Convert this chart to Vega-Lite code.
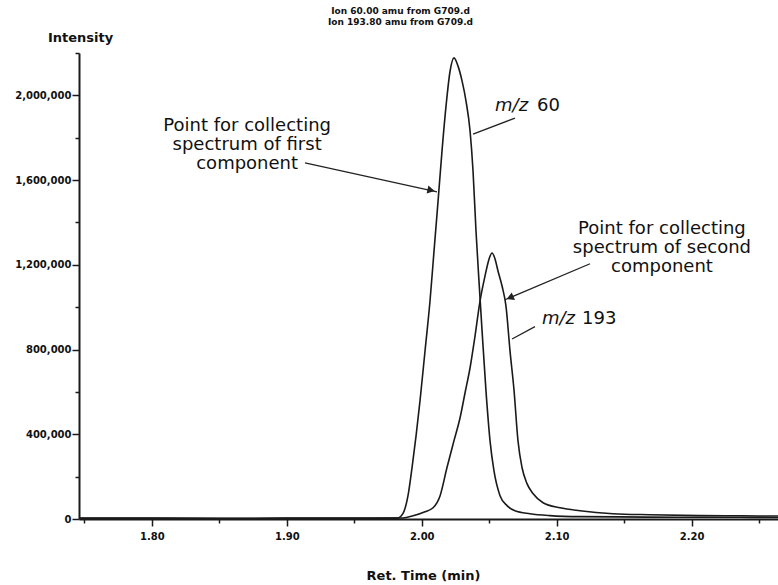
{
  "$schema": "https://vega.github.io/schema/vega-lite/v6.json",
  "autosize": "none",
  "width": 699,
  "height": 466,
  "padding": {"left": 79, "top": 53, "right": 0, "bottom": 66},
  "background": "white",
  "config": {"view": {"stroke": null}, "font": "DejaVu Sans"},
  "title": {
    "text": ["Ion 60.00 amu from G709.d", "Ion 193.80 amu from G709.d"],
    "font": "DejaVu Sans", "fontSize": 9, "fontWeight": "bold", "lineHeight": 11,
    "anchor": "middle", "dx": -28, "offset": 4, "color": "#111"
  },
  "datasets": {
    "curves": [
      {"ion": "60", "t": 1.746, "v": 3000}, {"ion": "60", "t": 1.80, "v": 3000}, {"ion": "60", "t": 1.85, "v": 2000},
      {"ion": "60", "t": 1.90, "v": 3000}, {"ion": "60", "t": 1.95, "v": 3000}, {"ion": "60", "t": 1.982, "v": 4000},
      {"ion": "60", "t": 1.986, "v": 25000}, {"ion": "60", "t": 1.9898, "v": 110000}, {"ion": "60", "t": 1.9928, "v": 243000},
      {"ion": "60", "t": 1.9958, "v": 394000}, {"ion": "60", "t": 1.9987, "v": 558000}, {"ion": "60", "t": 2.0024, "v": 792000},
      {"ion": "60", "t": 2.0061, "v": 1028000}, {"ion": "60", "t": 2.0091, "v": 1266000}, {"ion": "60", "t": 2.0121, "v": 1502000},
      {"ion": "60", "t": 2.015, "v": 1737000}, {"ion": "60", "t": 2.018, "v": 1950000}, {"ion": "60", "t": 2.021, "v": 2115000},
      {"ion": "60", "t": 2.0239, "v": 2177000}, {"ion": "60", "t": 2.0269, "v": 2138000}, {"ion": "60", "t": 2.0299, "v": 2067000},
      {"ion": "60", "t": 2.0328, "v": 1973000}, {"ion": "60", "t": 2.0358, "v": 1832000}, {"ion": "60", "t": 2.038, "v": 1643000},
      {"ion": "60", "t": 2.0402, "v": 1360000}, {"ion": "60", "t": 2.0424, "v": 1124000}, {"ion": "60", "t": 2.0447, "v": 888000},
      {"ion": "60", "t": 2.0476, "v": 605000}, {"ion": "60", "t": 2.0506, "v": 369000}, {"ion": "60", "t": 2.0535, "v": 228000},
      {"ion": "60", "t": 2.058, "v": 110000}, {"ion": "60", "t": 2.0632, "v": 63000}, {"ion": "60", "t": 2.0691, "v": 39000},
      {"ion": "60", "t": 2.0802, "v": 25000}, {"ion": "60", "t": 2.095, "v": 16000}, {"ion": "60", "t": 2.1172, "v": 11000},
      {"ion": "60", "t": 2.147, "v": 10000}, {"ion": "60", "t": 2.191, "v": 8000}, {"ion": "60", "t": 2.236, "v": 8000},
      {"ion": "60", "t": 2.264, "v": 7000},
      {"ion": "193", "t": 1.746, "v": 4000}, {"ion": "193", "t": 1.80, "v": 4000}, {"ion": "193", "t": 1.85, "v": 3000},
      {"ion": "193", "t": 1.90, "v": 4000}, {"ion": "193", "t": 1.95, "v": 4000}, {"ion": "193", "t": 1.986, "v": 5000},
      {"ion": "193", "t": 1.9936, "v": 15000}, {"ion": "193", "t": 2.0024, "v": 34000}, {"ion": "193", "t": 2.0084, "v": 53000},
      {"ion": "193", "t": 2.0136, "v": 110000}, {"ion": "193", "t": 2.0187, "v": 243000}, {"ion": "193", "t": 2.0239, "v": 370000},
      {"ion": "193", "t": 2.0284, "v": 478000}, {"ion": "193", "t": 2.0321, "v": 596000}, {"ion": "193", "t": 2.0358, "v": 714000},
      {"ion": "193", "t": 2.0395, "v": 865000}, {"ion": "193", "t": 2.0432, "v": 1030000}, {"ion": "193", "t": 2.0469, "v": 1148000},
      {"ion": "193", "t": 2.0499, "v": 1228000}, {"ion": "193", "t": 2.0521, "v": 1256000}, {"ion": "193", "t": 2.0543, "v": 1228000},
      {"ion": "193", "t": 2.0565, "v": 1171000}, {"ion": "193", "t": 2.0595, "v": 1100000}, {"ion": "193", "t": 2.0624, "v": 1006000},
      {"ion": "193", "t": 2.0654, "v": 794000}, {"ion": "193", "t": 2.0684, "v": 606000}, {"ion": "193", "t": 2.0713, "v": 370000},
      {"ion": "193", "t": 2.0743, "v": 243000}, {"ion": "193", "t": 2.078, "v": 167000}, {"ion": "193", "t": 2.0824, "v": 120000},
      {"ion": "193", "t": 2.0899, "v": 77000}, {"ion": "193", "t": 2.1025, "v": 53000}, {"ion": "193", "t": 2.1173, "v": 39000},
      {"ion": "193", "t": 2.1417, "v": 25000}, {"ion": "193", "t": 2.169, "v": 20000}, {"ion": "193", "t": 2.206, "v": 16000},
      {"ion": "193", "t": 2.236, "v": 15000}, {"ion": "193", "t": 2.264, "v": 14000}
    ],
    "leaders": [
      {"t": 2.038, "v": 1817000, "t2": 2.0691, "v2": 1893000},
      {"t": 2.0669, "v": 850000, "t2": 2.0839, "v2": 908000},
      {"t": 1.9135, "v": 1681000, "t2": 2.0113, "v2": 1544000},
      {"t": 2.1247, "v": 1205000, "t2": 2.0617, "v2": 1035000}
    ],
    "heads": [
      {"t": 2.0069, "v": 1552000, "shape": "triangle-right", "angle": 12},
      {"t": 2.0654, "v": 1045000, "shape": "triangle-left", "angle": 337}
    ],
    "notes": [
      {"t": 1.8706, "v": 1855000, "label": "Point for collecting|spectrum of first|component"},
      {"t": 2.178, "v": 1369000, "label": "Point for collecting|spectrum of second|component"}
    ],
    "mz": [
      {"t": 2.0543, "v": 1949000, "it": "m/z", "t2": 2.0854, "num": "60"},
      {"t": 2.0891, "v": 945000, "it": "m/z", "t2": 2.1188, "num": "193"}
    ]
  },
  "layer": [
    {
      "data": {"name": "curves"},
      "mark": {"type": "line", "color": "#1a1a1a", "strokeWidth": 1.6, "clip": true, "interpolate": "monotone"},
      "encoding": {
        "x": {
          "field": "t", "type": "quantitative",
          "scale": {"domain": [1.746, 2.264], "nice": false, "zero": false},
          "axis": {
            "values": [1.75, 1.775, 1.8, 1.825, 1.85, 1.875, 1.9, 1.925, 1.95, 1.975, 2.0, 2.025, 2.05, 2.075, 2.1, 2.125, 2.15, 2.175, 2.2, 2.225, 2.25],
            "labelExpr": "abs(datum.value*10 - round(datum.value*10)) < 0.001 ? format(datum.value, '.2f') : ''",
            "tickSize": {"condition": {"test": "abs(datum.value*10 - round(datum.value*10)) < 0.001", "value": 7}, "value": 4},
            "grid": false, "domainColor": "#1a1a1a", "domainWidth": 2, "tickColor": "#1a1a1a", "tickWidth": 1.5,
            "labelFont": "DejaVu Sans", "labelFontWeight": "bold", "labelFontSize": 10, "labelColor": "#111",
            "labelPadding": 5, "labelOverlap": false,
            "title": "Ret. Time (min)", "titleFont": "DejaVu Sans", "titleFontWeight": "bold", "titleFontSize": 13,
            "titleColor": "#111", "titleX": 344, "titleY": 56, "titleAnchor": null, "titleAlign": "center", "titleBaseline": "middle"
          }
        },
        "y": {
          "field": "v", "type": "quantitative",
          "scale": {"domain": [0, 2200000], "nice": false},
          "axis": {
            "values": [0, 100000, 200000, 300000, 400000, 500000, 600000, 700000, 800000, 900000, 1000000, 1100000, 1200000, 1300000, 1400000, 1500000, 1600000, 1700000, 1800000, 1900000, 2000000, 2100000, 2200000],
            "labelExpr": "datum.value % 400000 == 0 ? format(datum.value, ',') : ''",
            "tickSize": {"condition": {"test": "datum.value % 400000 == 0", "value": 7}, "value": 4},
            "grid": false, "domainColor": "#1a1a1a", "domainWidth": 2, "tickColor": "#1a1a1a", "tickWidth": 1.5,
            "labelFont": "DejaVu Sans", "labelFontWeight": "bold", "labelFontSize": 10, "labelColor": "#111",
            "labelPadding": 1, "labelOverlap": false,
            "title": "Intensity", "titleFont": "DejaVu Sans", "titleFontWeight": "bold", "titleFontSize": 13,
            "titleColor": "#111", "titleAngle": 0, "titleX": 1, "titleY": -16, "titleAlign": "center", "titleBaseline": "middle"
          }
        },
        "detail": {"field": "ion", "type": "nominal"}
      }
    },
    {
      "data": {"name": "leaders"},
      "mark": {"type": "rule", "color": "#222", "strokeWidth": 1.3},
      "encoding": {
        "x": {"field": "t", "type": "quantitative"},
        "y": {"field": "v", "type": "quantitative"},
        "x2": {"field": "t2"},
        "y2": {"field": "v2"}
      }
    },
    {
      "data": {"name": "heads"},
      "mark": {"type": "point", "filled": true, "color": "#222", "size": 70, "opacity": 1},
      "encoding": {
        "x": {"field": "t", "type": "quantitative"},
        "y": {"field": "v", "type": "quantitative"},
        "shape": {"field": "shape", "type": "nominal", "scale": null, "legend": null},
        "angle": {"field": "angle", "type": "quantitative", "scale": null}
      }
    },
    {
      "data": {"name": "notes"},
      "mark": {"type": "text", "font": "DejaVu Sans", "fontSize": 18, "lineHeight": 19, "lineBreak": "|", "align": "center", "baseline": "middle", "color": "#111"},
      "encoding": {
        "x": {"field": "t", "type": "quantitative"},
        "y": {"field": "v", "type": "quantitative"},
        "text": {"field": "label"}
      }
    },
    {
      "data": {"name": "mz"},
      "mark": {"type": "text", "font": "DejaVu Sans", "fontSize": 18, "fontStyle": "italic", "align": "left", "baseline": "middle", "color": "#111"},
      "encoding": {
        "x": {"field": "t", "type": "quantitative"},
        "y": {"field": "v", "type": "quantitative"},
        "text": {"field": "it"}
      }
    },
    {
      "data": {"name": "mz"},
      "mark": {"type": "text", "font": "DejaVu Sans", "fontSize": 18, "align": "left", "baseline": "middle", "color": "#111"},
      "encoding": {
        "x": {"field": "t2", "type": "quantitative"},
        "y": {"field": "v", "type": "quantitative"},
        "text": {"field": "num"}
      }
    }
  ]
}
